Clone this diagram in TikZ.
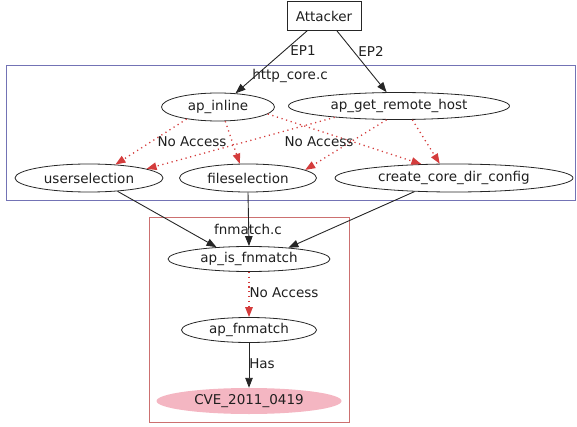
\documentclass[tikz,border=0pt]{standalone}
\usepackage{fontspec}
\setmainfont{DejaVu Sans}
\usetikzlibrary{shapes.geometric,arrows.meta}
\definecolor{edgegray}{HTML}{262626}
\definecolor{clblue}{HTML}{7373B5}
\definecolor{clred}{HTML}{CC7070}
\definecolor{dotred}{HTML}{D43C3C}
\definecolor{cvepink}{HTML}{F4B6C2}
\tikzset{
  every node/.style={font=\fontsize{13.5}{15}\selectfont, text=black!88},
  ell/.style={draw=edgegray, ellipse, inner sep=0pt, minimum height=28pt, line width=0.8pt},
  solidarr/.style={draw=edgegray, line width=0.9pt, -{Triangle[length=10pt,width=7.5pt]}},
  noacc/.style={draw=dotred, line width=1.3pt, dash pattern=on 1.2pt off 3.6pt, -{Triangle[length=10pt,width=7.5pt,fill=dotred]}},
  lbl/.style={inner sep=1pt}
}
\begin{document}
\begin{tikzpicture}[x=1pt,y=-1pt]
\useasboundingbox (0,0) rectangle (577,427);
% clusters
\draw[clblue, line width=0.9pt] (6,65) rectangle (575,200);
\node[lbl] (lhttp) at (290,76) {http\_core.c};
\draw[clred, line width=0.9pt] (149,217) rectangle (349,422);
\node[lbl] (lfn) at (248,229) {fnmatch.c};
% nodes
\node[draw=edgegray, line width=0.9pt, minimum width=74pt, minimum height=29pt, inner sep=0pt] (att) at (324,16) {Attacker};
\node[ell, minimum width=113pt] (inl) at (218,107) {ap\_inline};
\node[ell, minimum width=221pt, minimum height=27pt] (grh) at (399,106) {ap\_get\_remote\_host};
\node[ell, minimum width=148pt] (us) at (89,178) {userselection};
\node[ell, minimum width=137pt] (fs) at (248,178) {fileselection};
\node[ell, minimum width=238pt] (ccd) at (454,178) {create\_core\_dir\_config};
\node[ell, minimum width=162pt, minimum height=25pt] (isf) at (249,259) {ap\_is\_fnmatch};
\node[ell, minimum width=135pt, minimum height=25pt] (fnm) at (249,330) {ap\_fnmatch};
\node[ellipse, fill=cvepink, inner sep=0pt, minimum width=185pt, minimum height=26pt] (cve) at (249,401) {CVE\_2011\_0419};
% edges from Attacker
\draw[solidarr] ([xshift=-17pt]att.south) -- (inl.38);
\node[lbl] (ep1) at (303,51) {EP1};
\draw[solidarr] ([xshift=13pt]att.south) -- (grh.132);
\node[lbl] (ep2) at (371,51) {EP2};
% no-access edges in http_core.c
\draw[noacc] (inl.201) -- (us.27);
\draw[noacc] (inl.297) -- (fs.120);
\draw[noacc] (inl.352) -- (ccd.157);
\draw[noacc] (grh.190) -- (us.9);
\draw[noacc] (grh.228) -- (fs.8);
\draw[noacc] (grh.314) -- (ccd.135);
\node[lbl] (na1) at (192,142) {No Access};
\node[lbl] (na2) at (319,142) {No Access};
% into fnmatch.c
\draw[solidarr] (us.335) -- (isf.160);
\draw[solidarr] (fs.south) -- (isf.north);
\draw[solidarr] (ccd.199) -- (isf.16);
\draw[noacc] (isf.south) -- (fnm.north);
\node[lbl] (na3) at (284,293) {No Access};
\draw[solidarr] (fnm.south) -- (cve.north);
\node[lbl] (has) at (262,364) {Has};
\end{tikzpicture}
\end{document}
